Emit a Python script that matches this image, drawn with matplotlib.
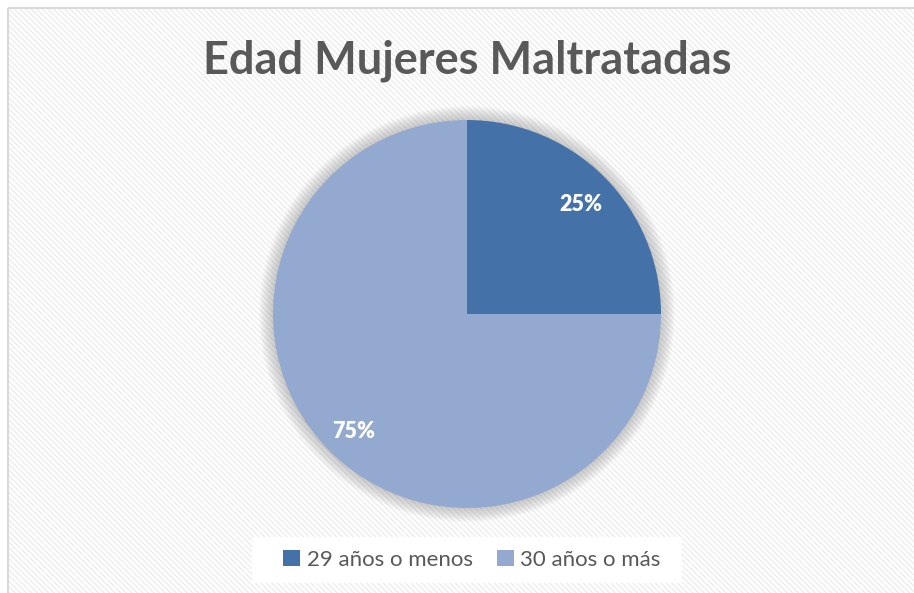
import matplotlib.pyplot as plt
from matplotlib.patches import Rectangle, Circle

categories = ["29 años o menos", "30 años o más"]
values = [25, 75]
colors = ["#4472A8", "#93A9D0"]
title = "Edad Mujeres Maltratadas"

W, H = 914, 593
fig = plt.figure(figsize=(W / 100, H / 100), dpi=100)
fig.patch.set_facecolor("white")

# background with the chart frame and faint diagonal stripes
bg = fig.add_axes([0, 0, 1, 1])
bg.set_xlim(0, W)
bg.set_ylim(H, 0)
bg.axis("off")
plt.rcParams["hatch.linewidth"] = 1.0
bg.add_patch(Rectangle((8, 8), W, H, facecolor="white", edgecolor="#ededed", lw=0,
                       hatch="\\" * 6))
bg.add_patch(Rectangle((8, 8), W, H, facecolor="none", edgecolor="#d9d9d9", lw=1.5))

# soft shadow around the pie
cx, cy, r = 467, 314, 194
for i in range(14):
    bg.add_patch(Circle((cx, cy), r + 14 - i, facecolor="#7f7f7f", alpha=0.03,
                        edgecolor="none"))

# legend box background
bg.add_patch(Rectangle((252, 537), 430, 46, facecolor="white", edgecolor="none"))

bg.text(cx, 61, title, ha="center", va="center", fontsize=32.5, fontweight="bold",
        color="#595959", family="Lato")

ax = fig.add_axes([(cx - r) / W, 1 - (cy + r) / H, 2 * r / W, 2 * r / H])
wedges, texts, autotexts = ax.pie(values, colors=colors, startangle=90, counterclock=False,
                                  autopct="%d%%", pctdistance=0.83, radius=1,
                                  wedgeprops=dict(linewidth=0),
                                  textprops=dict(color="white", fontsize=15.5,
                                                 fontweight="heavy", family="Lato"))
for t in autotexts:
    x, y = t.get_position()
    t.set_position((x, y - 0.02))
ax.set_xlim(-1, 1)
ax.set_ylim(-1, 1)
ax.set_aspect("equal")

fig.legend(wedges, categories, loc="center", bbox_to_anchor=(472 / W, 1 - 560 / H),
           ncol=2, frameon=False, handlelength=0.75, handleheight=0.75,
           handletextpad=0.3, columnspacing=1.1,
           prop=dict(family="Lato", size=16))
for t in fig.legends[0].get_texts():
    t.set_color("#595959")

fig.savefig("out.png", dpi=100)
